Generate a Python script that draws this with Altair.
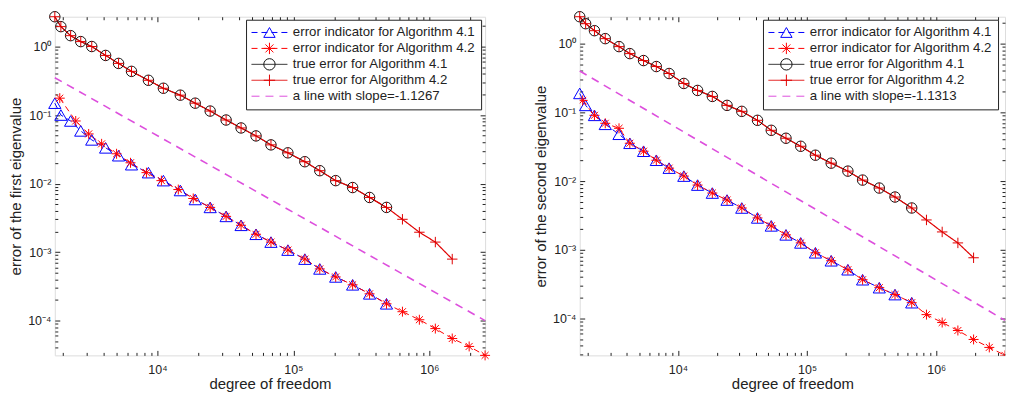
import math
import altair as alt
import pandas as pd

FONT = "Liberation Sans"
INK = "#222222"

# ---------------- names ----------------
S_IND41 = "error indicator for Algorithm 4.1"
S_IND42 = "error indicator for Algorithm 4.2"
S_TRU41 = "true error for Algorithm 4.1"
S_TRU42 = "true error for Algorithm 4.2"
SLOPE_LABEL_1 = "a line with slope=-1.1267"
SLOPE_LABEL_2 = "a line with slope=-1.1313"

# ---------------- left panel: first eigenvalue ----------------
dof_41_1 = [1760, 1950, 2300, 2730, 3290, 4160, 5180, 6450, 8590, 11070, 14740, 18980,
            24450, 32020, 41250, 53130, 68420, 91140, 121400, 156400, 204800, 272800,
            363400, 484200]
ind_41_1 = [0.149, 0.1, 0.0819, 0.0587, 0.0434, 0.0332, 0.0255, 0.01885, 0.01443, 0.01104,
            0.00792, 0.00586, 0.00449, 0.00332, 0.00246, 0.00182, 0.0014, 0.00107, 0.00079,
            0.000568, 0.000434, 0.000333, 0.000246, 0.000176]
true_41_1 = [2.72, 1.95, 1.44, 1.18, 1.0, 0.741, 0.567, 0.434, 0.3215, 0.246, 0.195, 0.149,
             0.1143, 0.0846, 0.0648, 0.0496, 0.0367, 0.0281, 0.02084, 0.01542, 0.01104,
             0.00875, 0.00627, 0.00449]
dof_42ind_1 = [1914, 2507, 3123, 3888, 5008, 6342, 8308, 10700, 14250, 18350, 24450, 32020,
               41250, 53130, 68420, 91140, 121400, 156400, 204800, 272800, 363400, 484200,
               634200, 844800, 1107000, 1474000, 1963000, 2571000]
ind_42_1 = [0.1763, 0.0819, 0.0530, 0.0380, 0.0272, 0.0201, 0.01443, 0.01104, 0.00818, 0.00606,
            0.00449, 0.00332, 0.00246, 0.00182, 0.0014, 0.00107, 0.00079, 0.000568, 0.000434,
            0.000333, 0.000246, 0.000176, 0.000135, 0.000103, 7.65e-5, 5.48e-5, 4.2e-5, 3.11e-5]
dof_42true_1 = [1760, 1950, 2300, 2730, 3290, 4160, 5180, 6450, 8590, 11070, 14740, 18980,
                24450, 32020, 41250, 53130, 68420, 91140, 121400, 156400, 204800, 272800,
                363400, 484200, 634200, 844800, 1107000, 1474000]
true_42_1 = [2.72, 1.95, 1.44, 1.18, 1.0, 0.741, 0.567, 0.434, 0.3215, 0.246, 0.195, 0.149,
             0.1143, 0.0846, 0.0648, 0.0496, 0.0367, 0.0281, 0.02084, 0.01542, 0.01104,
             0.00875, 0.00627, 0.00449, 0.00301, 0.00195, 0.0014, 0.00079]
slope_x_1 = [1760, 2571000]
slope_y_1 = [0.35, 1.0e-4]

# ---------------- right panel: second eigenvalue ----------------
dof_41_2 = [1736, 1929, 2258, 2737, 3498, 4241, 5417, 6802, 8544, 11107, 14195, 18460, 24000,
            31210, 41300, 52780, 68630, 89240, 116000, 153600, 206800, 268900, 362200,
            479300, 645600]
ind_41_2 = [0.1886, 0.1263, 0.0905, 0.067, 0.048, 0.0355, 0.0272, 0.0201, 0.01543, 0.01182,
            0.00875, 0.0067, 0.0053, 0.00406, 0.00291, 0.00223, 0.00165, 0.00126, 0.000905,
            0.000693, 0.000513, 0.000367, 0.000281, 0.000223, 0.00017]
true_41_2 = [2.462, 1.950, 1.543, 1.182, 0.905, 0.716, 0.567, 0.464, 0.3674, 0.2633, 0.2084,
             0.1705, 0.1263, 0.1034, 0.0766, 0.0548, 0.042, 0.0321, 0.0238, 0.01823, 0.01396,
             0.01034, 0.00792, 0.00586, 0.00406]
dof_42ind_2 = [1830, 2258, 2737, 3498, 4241, 5417, 6802, 8544, 11107, 14195, 18460, 24000,
               31210, 41300, 52780, 68630, 89240, 116000, 153600, 206800, 268900, 362200,
               479300, 645600, 839500, 1111000, 1470000, 1945000, 2574000, 3406000]
ind_42_2 = [0.1493, 0.0905, 0.0693, 0.0586, 0.0355, 0.0272, 0.0201, 0.01543, 0.01182, 0.00875,
            0.0067, 0.0053, 0.00406, 0.00291, 0.00223, 0.00165, 0.00126, 0.000905, 0.000693,
            0.000513, 0.000367, 0.000281, 0.000223, 0.00017, 0.000114, 8.75e-5, 6.7e-5,
            4.96e-5, 3.8e-5, 2.91e-5]
dof_42true_2 = [1736, 1929, 2258, 2737, 3498, 4241, 5417, 6802, 8544, 11107, 14195, 18460,
                24000, 31210, 41300, 52780, 68630, 89240, 116000, 153600, 206800, 268900,
                362200, 479300, 645600, 839500, 1111000, 1470000, 1945000]
true_42_2 = [2.462, 1.950, 1.543, 1.182, 0.905, 0.716, 0.567, 0.464, 0.3674, 0.2633, 0.2084,
             0.1705, 0.1263, 0.1034, 0.0766, 0.0548, 0.042, 0.0321, 0.0238, 0.01823, 0.01396,
             0.01034, 0.00792, 0.00586, 0.00406, 0.00272, 0.00182, 0.00126, 0.000766]
slope_x_2 = [1736, 3406000]
slope_y_2 = [0.40, 9.4e-5]

# ---------------- styles ----------------
SERIES = [S_IND41, S_IND42, S_TRU41, S_TRU42]
COLORS = ["#0000ff", "#ff0000", "#111111", "#e00000"]
DASHES = [[6, 4], [6, 4], [1, 0], [1, 0]]
WIDTHS = [1, 1, 1, 1.2]
SLOPE_COLOR = "#dd4fdd"
SLOPE_DASH = [8, 6]
SLOPE_WIDTH = 1.6
ASTER = "M-1,0L1,0M0,-1L0,1M-0.7,-0.7L0.7,0.7M-0.7,0.7L0.7,-0.7"
PLUS = "M-1,0L1,0M0,-1L0,1"
SHAPES = ["triangle-up", ASTER, "circle", PLUS]
SIZES = [150, 100, 110, 110]

W1, W2, H = 432, 427, 340
SPACING = 40
LEG_Y = 3
LEG_PAD = 5
LINE_SYM = 36
ROW_H = 15.6
MARK_SYM = 130
TICK_FS = 12.5
TITLE_FS = 15

SUP = str.maketrans("-0123456789", "\u207b\u2070\u00b9\u00b2\u00b3\u2074\u2075\u2076\u2077\u2078\u2079")


def log_ticks(lo, hi):
    major, minor = [], []
    for k in range(math.floor(math.log10(lo)) - 1, math.ceil(math.log10(hi)) + 1):
        for m in range(1, 10):
            v = float(f"{m}e{k}")
            if lo <= v <= hi:
                (major if m == 1 else minor).append(v)
    return major, minor


def label_expr(major):
    parts = []
    for v in major:
        e = round(math.log10(v))
        parts.append(f"abs(log(datum.value)/LN10 - ({e})) < 0.01 ? '10{str(e).translate(SUP)}'")
    return " : ".join(parts) + " : ''"


def panel(width, ytitle, slope_label, d41, i41, t41, d42i, i42, d42t, t42, sx, sy,
          leg_x, clip_ast):
    names = SERIES + [slope_label]
    rows, prow = [], []
    groups = [(S_IND41, d41, i41, 0), (S_IND42, d42i, i42, 1),
              (S_TRU41, d41, t41, 2), (S_TRU42, d42t, t42, 3)]
    for name, xs_, ys_, k in groups:
        for xv, yv in zip(xs_, ys_):
            rows.append({"x": xv, "y": yv, "series": name, "sw": WIDTHS[k]})
            prow.append({"x": xv, "y": yv, "marker": name, "sz": SIZES[k], "k": k})
    for xv, yv in zip(sx, sy):
        rows.append({"x": xv, "y": yv, "series": slope_label, "sw": SLOPE_WIDTH})
    ldf = pd.DataFrame(rows)
    pdf = pd.DataFrame(prow)
    pdf_main = pdf[pdf["k"] != 1]
    pdf_ast = pdf[pdf["k"] == 1]

    allx = d41 + d42i + d42t + sx
    ally = i41 + i42 + t41 + t42 + sy
    xlo, xhi = min(allx), max(allx)
    ylo, yhi = min(ally), max(ally)
    xmaj, xmin_ = log_ticks(xlo, xhi)
    ymaj, ymin_ = log_ticks(ylo, yhi)
    xsc = alt.Scale(type="log", domain=[xlo, xhi], nice=False)
    ysc = alt.Scale(type="log", domain=[ylo, yhi], nice=False)

    line_leg = alt.Legend(
        orient="none", legendX=leg_x, legendY=LEG_Y, title=None, direction="vertical",
        symbolType="stroke", symbolSize=LINE_SYM * LINE_SYM, symbolStrokeWidth=1,
        clipHeight=ROW_H, rowPadding=0, padding=LEG_PAD, labelOffset=5,
        labelFontSize=13.3, labelFont=FONT, labelColor=INK, labelLimit=400,
        strokeColor=INK, fillColor="white",
    )
    mark_off = math.ceil(math.sqrt(MARK_SYM) + 1)
    line_off = math.ceil(LINE_SYM + 1)
    mark_leg = alt.Legend(
        orient="none", legendX=leg_x + line_off / 2 - mark_off / 2, legendY=LEG_Y,
        title=None, direction="vertical", symbolSize=MARK_SYM, symbolStrokeWidth=1,
        symbolFillColor="transparent", clipHeight=ROW_H, rowPadding=0, padding=LEG_PAD,
        labelFontSize=1, labelOpacity=0, labelLimit=1, labelOffset=0,
    )

    def ax(orient, values, size, labels=False, title=None, expr=None, lp=0, tp=0):
        kw = dict(orient=orient, values=values, tickSize=size, offset=-size, domain=False,
                  grid=False, labels=labels, title=title, tickColor=INK, tickWidth=1)
        if labels:
            kw.update(labelExpr=expr, labelFont=FONT, labelFontSize=TICK_FS, labelColor=INK,
                      labelPadding=lp)
        if title:
            kw.update(titleFont=FONT, titleFontSize=TITLE_FS, titleColor=INK,
                      titleFontWeight="normal", titlePadding=tp)
        return alt.Axis(**kw)

    stroke_enc = alt.Stroke("marker:N", scale=alt.Scale(domain=SERIES, range=COLORS),
                            legend=mark_leg)
    shape_enc = alt.Shape("marker:N", scale=alt.Scale(domain=SERIES, range=SHAPES),
                          legend=mark_leg)
    size_enc = alt.Size("sz:Q", scale=None, legend=None)

    lines = alt.Chart(ldf).mark_line().encode(
        x=alt.X("x:Q", scale=xsc, axis=ax("bottom", xmaj, 5, True, "degree of freedom",
                                          label_expr(xmaj), 8, 1)),
        y=alt.Y("y:Q", scale=ysc, axis=ax("left", ymaj, 5, True, ytitle,
                                          label_expr(ymaj), 4, 4)),
        color=alt.Color("series:N", scale=alt.Scale(domain=names, range=COLORS + [SLOPE_COLOR]),
                        legend=line_leg),
        strokeDash=alt.StrokeDash("series:N",
                                  scale=alt.Scale(domain=names, range=DASHES + [SLOPE_DASH]),
                                  legend=line_leg),
        strokeWidth=alt.StrokeWidth("sw:Q", scale=None, legend=None),
    )
    # triangles first, then asterisks on top, then circles and plus signs
    tri = alt.Chart(pdf_main[pdf_main["k"] == 0]).mark_point(
        filled=False, strokeWidth=1, opacity=1).encode(
        x=alt.X("x:Q", scale=xsc, axis=ax("bottom", xmin_, 3)),
        y=alt.Y("y:Q", scale=ysc, axis=ax("left", ymin_, 3)),
        stroke=stroke_enc, shape=shape_enc, size=size_enc,
    )
    ast = alt.Chart(pdf_ast).mark_point(filled=False, strokeWidth=1, opacity=1,
                                        clip=clip_ast).encode(
        x=alt.X("x:Q", scale=xsc, axis=None),
        y=alt.Y("y:Q", scale=ysc, axis=None),
        stroke=stroke_enc, shape=shape_enc, size=size_enc,
    )
    top = alt.Chart(pdf_main[pdf_main["k"] != 0]).mark_point(
        filled=False, strokeWidth=1, opacity=1).encode(
        x=alt.X("x:Q", scale=xsc, axis=None),
        y=alt.Y("y:Q", scale=ysc, axis=None),
        stroke=stroke_enc, shape=shape_enc, size=size_enc,
        order=alt.Order("k:Q"),
    )
    sdf = pd.DataFrame({"x": sx, "y": sy})
    invA = alt.Chart(sdf).mark_point(opacity=0, size=4, clip=True).encode(
        x=alt.X("x:Q", scale=xsc, axis=ax("top", xmaj, 5)),
        y=alt.Y("y:Q", scale=ysc, axis=ax("right", ymaj, 5)),
    )
    invB = alt.Chart(sdf).mark_point(opacity=0, size=4, clip=True).encode(
        x=alt.X("x:Q", scale=xsc, axis=ax("top", xmin_, 3)),
        y=alt.Y("y:Q", scale=ysc, axis=ax("right", ymin_, 3)),
    )
    return alt.layer(lines, tri, ast, top, invA, invB).resolve_axis(
        x="independent", y="independent").properties(width=width, height=H)


left = panel(W1, "error of the first eigenvalue", SLOPE_LABEL_1, dof_41_1, ind_41_1, true_41_1,
             dof_42ind_1, ind_42_1, dof_42true_1, true_42_1, slope_x_1, slope_y_1,
             192, False)
right = panel(W2, "error of the second eigenvalue", SLOPE_LABEL_2, dof_41_2, ind_41_2, true_41_2,
              dof_42ind_2, ind_42_2, dof_42true_2, true_42_2, slope_x_2, slope_y_2,
              184, True)

chart = alt.hconcat(left, right, spacing=SPACING).resolve_scale(
    color="independent", strokeDash="independent", stroke="independent", shape="independent"
).properties(padding=0, background="white").configure_view(
    stroke=INK, strokeWidth=1
).configure(font=FONT)

chart.save("out.html", embed_options={"renderer": "svg", "actions": False})
